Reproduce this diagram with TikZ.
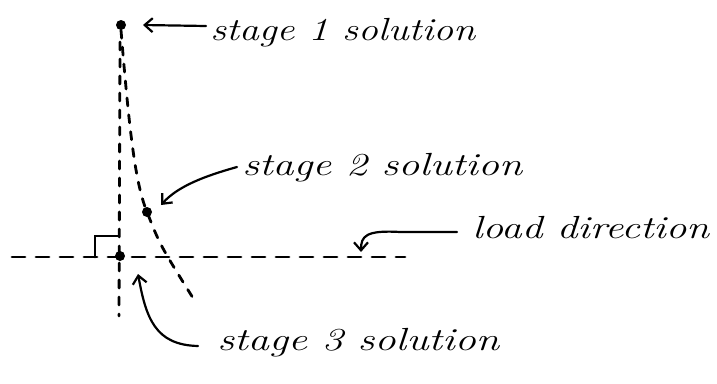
\documentclass[tikz,border=0pt]{standalone}
\usetikzlibrary{arrows.meta}
\begin{document}
\begin{tikzpicture}[x=1pt,y=-1pt,
  ink/.style={line width=2.8pt,line cap=round},
  vdash/.style={ink,dash pattern=on 8pt off 9pt},
  hdash/.style={ink,dash pattern=on 13pt off 11pt},
  pt/.style={circle,fill=black,inner sep=0pt,minimum size=10pt},
  lbl/.style={anchor=base west,inner sep=0pt,font=\fontsize{32}{36}\selectfont\itshape},
  arr/.style={ink,line width=2.2pt,-{Straight Barb[length=8pt,width=14pt,line width=2.2pt]}}]
\useasboundingbox (0,0) rectangle (717,383);
% dots
\node[pt] (s1) at (121,25) {};
\node[pt] (s2) at (147,212) {};
\node[pt] (s3) at (120,256) {};
% dashed lines
\coordinate (vtop) at (120,42);
\coordinate (vbot) at (119,316);
\coordinate (hl) at (12,257);
\coordinate (hr) at (405,257);
\coordinate (cend) at (193,298);
\draw[vdash] (vtop) -- (vbot);
\draw[hdash] (hl) -- (hr);
\draw[vdash] (s1.south) .. controls (130,140) and (136,185) .. (s2.center) .. controls (160,245) .. (cend);
% right angle mark
\coordinate (ra1) at (95,257);
\coordinate (ra2) at (95,236);
\coordinate (ra3) at (118,236);
\draw[ink] (ra1) -- (ra2) -- (ra3);
% labels
\node[lbl,xscale=1.24] (t1) at (210,40) {stage 1 solution};
\node[lbl,xscale=1.31] (t2) at (242,175) {stage 2 solution};
\node[lbl,xscale=1.29] (t3) at (472,238) {load direction};
\node[lbl,xscale=1.32] (t4) at (217,350) {stage 3 solution};
% arrows
\coordinate (a1t) at (206,26);
\coordinate (a1) at (143,25);
\draw[arr] (a1t) -- (a1);
\coordinate (a2t) at (237,167);
\coordinate (a2) at (161,205);
\draw[arr] (a2t) .. controls (205,176) and (178,186) .. (a2);
\coordinate (lat) at (457,232);
\coordinate (la) at (361,252);
\draw[arr] (lat) -- (400,232) .. controls (366,230) and (361,236) .. (la);
\coordinate (a4t) at (198,346);
\coordinate (a4) at (138,274);
\draw[arr] (a4t) .. controls (155,345) and (146,318) .. (a4);
\end{tikzpicture}
\end{document}
